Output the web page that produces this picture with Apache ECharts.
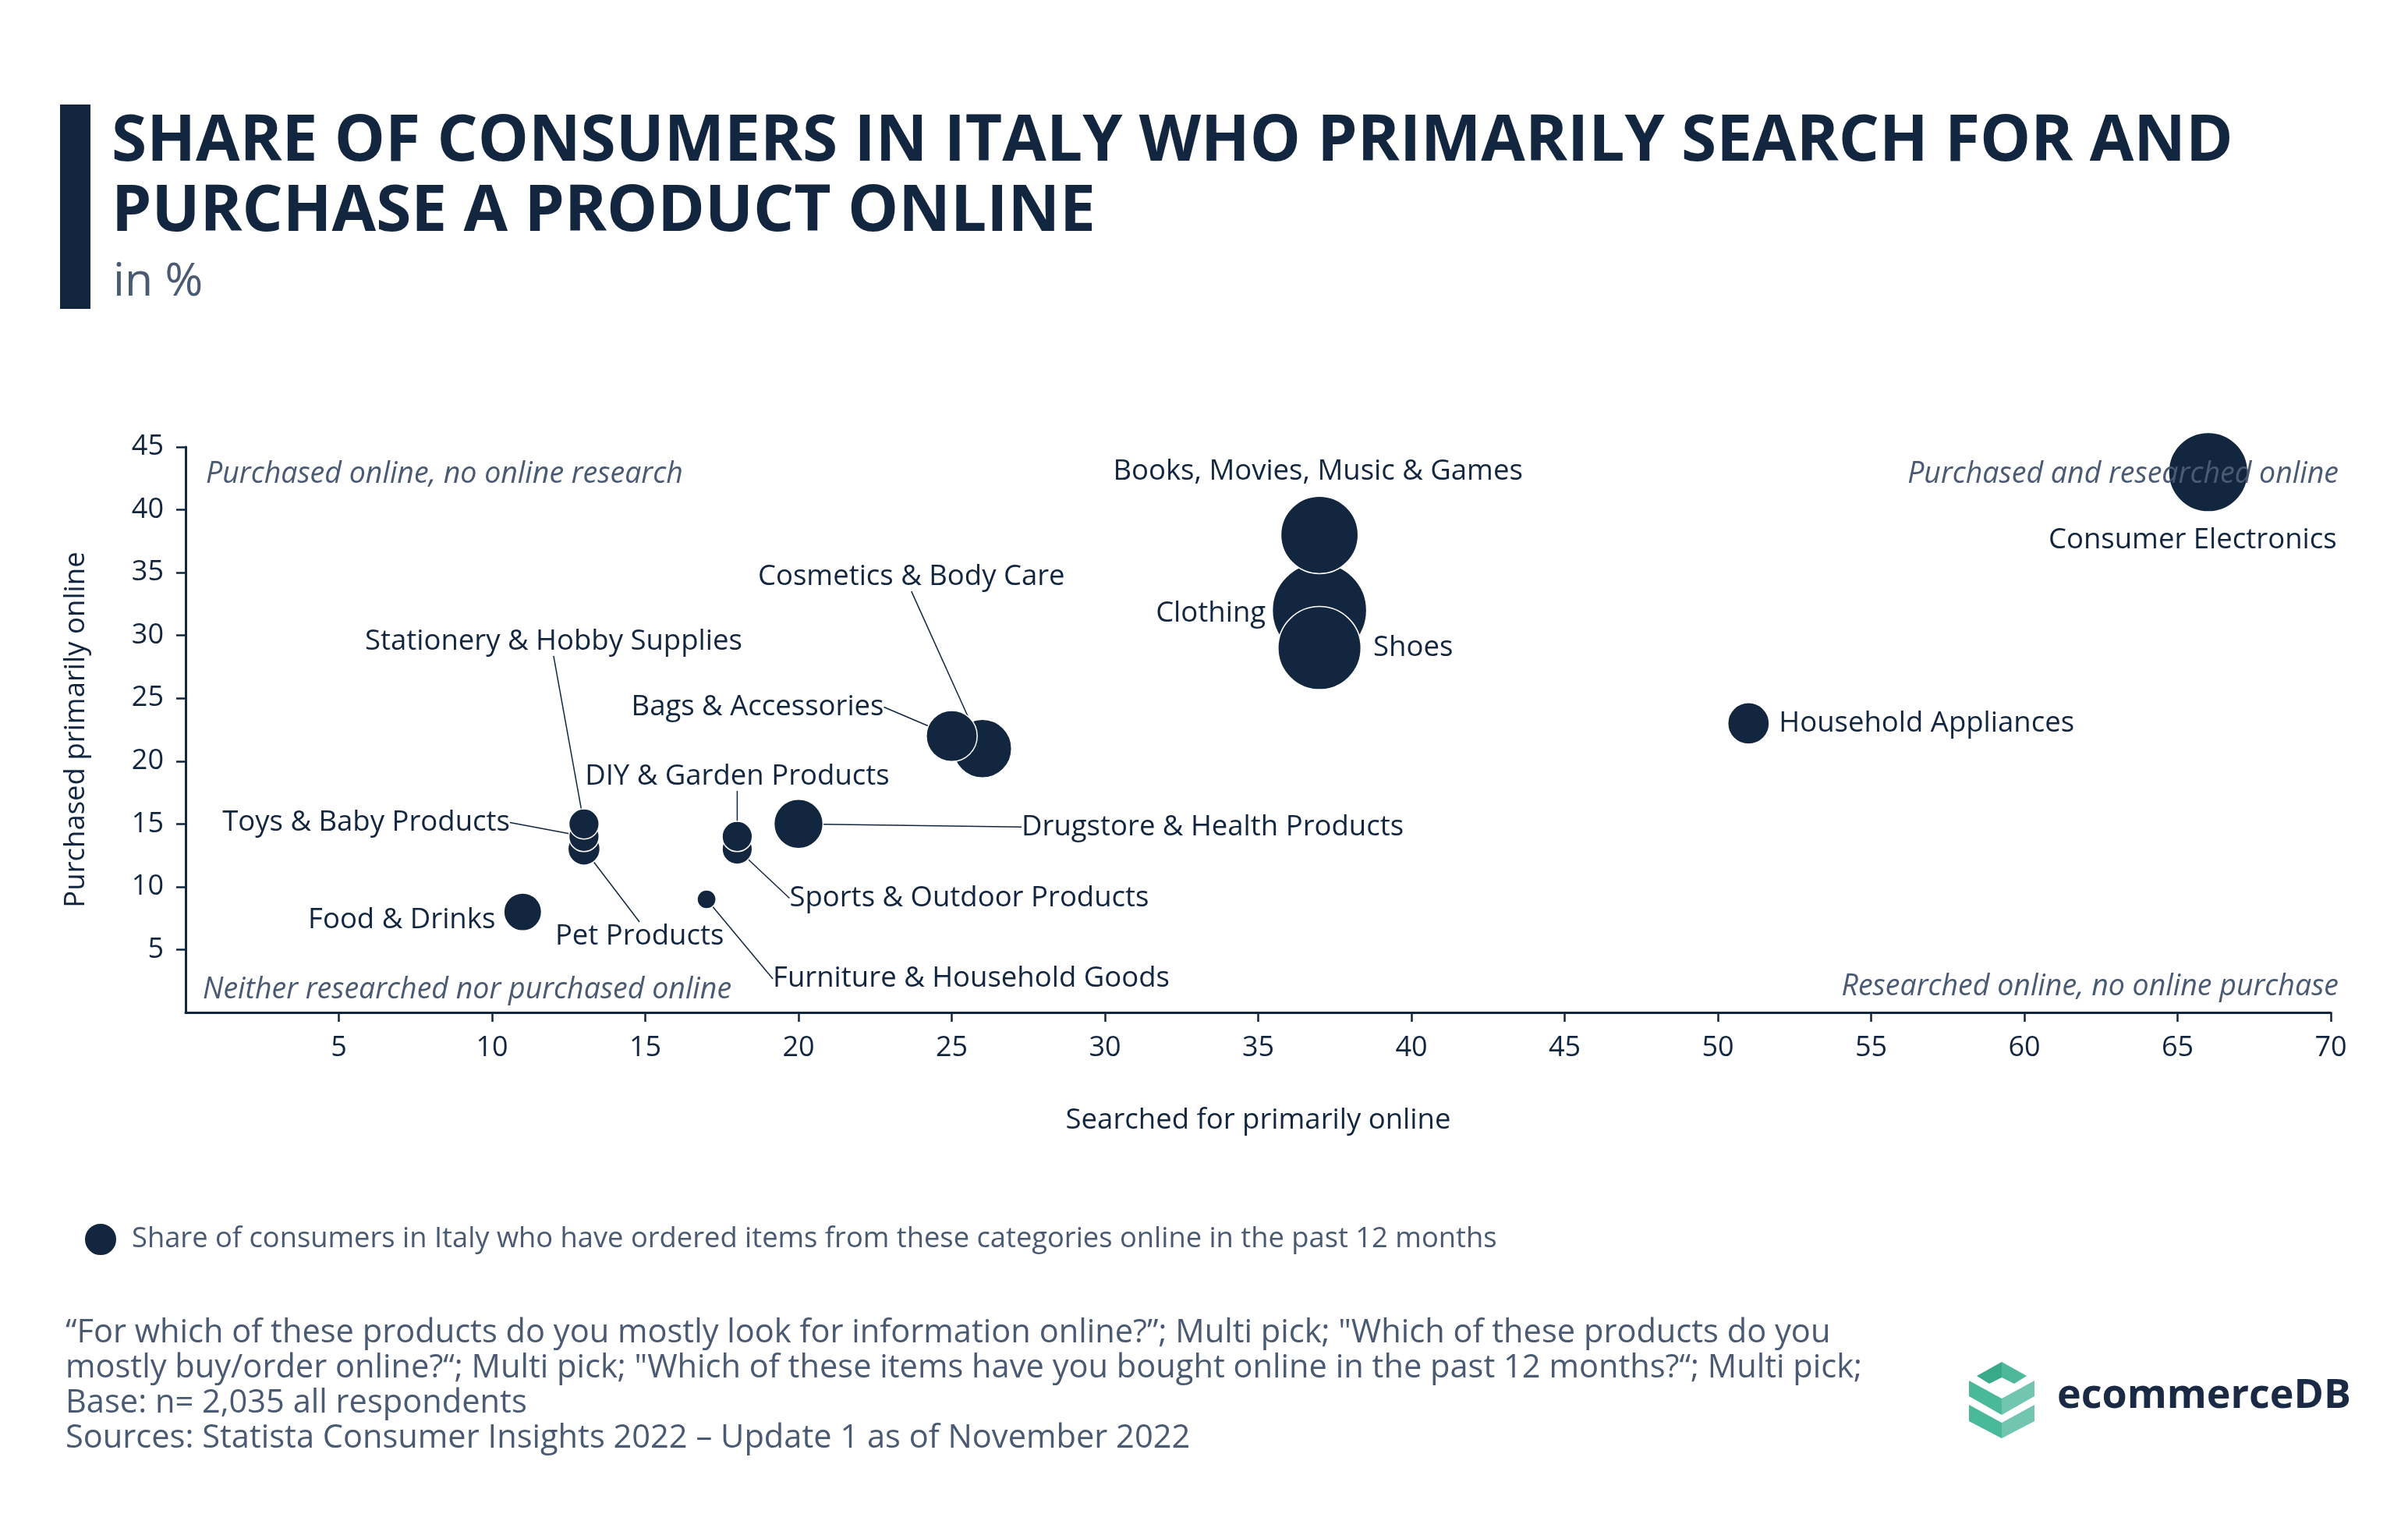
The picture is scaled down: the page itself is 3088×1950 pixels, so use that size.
<!DOCTYPE html>
<html>
<head>
<meta charset="utf-8">
<script src="https://cdn.jsdelivr.net/npm/echarts@6/dist/echarts.min.js"></script>
<style>
  html, body { margin: 0; padding: 0; background: #fff; }
  #main { width: 3088px; height: 1950px; }
</style>
</head>
<body>
<div id="main"></div>
<script>
// categories, drawn in this order (later ones sit on top)
var categories = [
  'Food & Drinks', 'Pet Products', 'Toys & Baby Products', 'Stationery & Hobby Supplies',
  'Furniture & Household Goods', 'Sports & Outdoor Products', 'DIY & Garden Products',
  'Drugstore & Health Products', 'Cosmetics & Body Care', 'Bags & Accessories',
  'Clothing', 'Shoes', 'Books, Movies, Music & Games', 'Household Appliances', 'Consumer Electronics'
];
// searched for primarily online (%)
var searched = [11, 13, 13, 13, 17, 18, 18, 20, 26, 25, 37, 37, 37, 51, 66];
// purchased primarily online (%)
var purchased = [8, 13, 14, 15, 9, 13, 14, 15, 21, 22, 32, 29, 38, 23, 43];
// ordered in the past 12 months (%) -> bubble size
var ordered = [20, 17, 16, 16, 10, 16, 16, 26, 31, 27, 50, 44, 41, 22, 42];

var xTicks = [0, 70, 5];
var yTicks = [0, 45, 5];

// label placement: [dx, dy, align, leader line]
var labelPlace = [
  [-35, 10, 'right', false],
  [-37, 112, 'left', true],
  [-95, -18, 'right', true],
  [-39, -234, 'center', true],
  [85, 102, 'left', true],
  [67, 63, 'left', true],
  [0, -77, 'center', true],
  [286, 4, 'left', true],
  [-91, -220, 'center', true],
  [-87, -37, 'right', true],
  [-69, 4, 'right', false],
  [69, 0, 'left', false],
  [-2, -81, 'center', false],
  [39, 0, 'left', false],
  [-20, 87, 'center', false]
];

var navy = '#13263f';
var grey = '#4a5a72';
var font = '"Open Sans", "Noto Sans", sans-serif';
var legendName = 'Share of consumers in Italy who have ordered items from these categories online in the past 12 months';

var seriesData = categories.map(function (name, i) {
  return {
    name: name,
    value: [searched[i], purchased[i], ordered[i]],
    labelLine: { show: labelPlace[i][3] }
  };
});

var chart = echarts.init(document.getElementById('main'));

var option = {
  backgroundColor: '#fff',
  textStyle: { fontFamily: font },
  title: [
    {
      text: 'SHARE OF CONSUMERS IN ITALY WHO PRIMARILY SEARCH FOR AND\nPURCHASE A PRODUCT ONLINE',
      left: 138,
      top: 133,
      textStyle: { fontSize: 82, fontWeight: 'bold', color: navy, lineHeight: 90, fontFamily: font }
    },
    {
      text: 'in %',
      left: 140,
      top: 328,
      textStyle: { fontSize: 59, fontWeight: 'normal', color: grey, fontFamily: font }
    }
  ],
  legend: {
    left: 102,
    top: 1562,
    icon: 'circle',
    itemWidth: 42,
    itemHeight: 42,
    textStyle: { fontSize: 36.3, color: grey, fontFamily: font, padding: [0, 0, 0, 14] },
    data: [legendName]
  },
  grid: { left: 238, right: 99, top: 573, bottom: 652 },
  xAxis: {
    type: 'value',
    min: xTicks[0], max: xTicks[1], interval: xTicks[2],
    name: 'Searched for primarily online',
    nameLocation: 'middle',
    nameGap: 120,
    nameTextStyle: { fontSize: 36.5, color: navy },
    axisLine: { show: true, lineStyle: { color: navy, width: 3 } },
    axisTick: { show: true, length: 12, lineStyle: { color: navy, width: 2.5 } },
    axisLabel: { fontSize: 36, color: navy, margin: 28, showMinLabel: false },
    splitLine: { show: false }
  },
  yAxis: {
    type: 'value',
    min: yTicks[0], max: yTicks[1], interval: yTicks[2],
    name: 'Purchased primarily online',
    nameLocation: 'middle',
    nameGap: 122,
    nameTextStyle: { fontSize: 36.5, color: navy },
    axisLine: { show: true, lineStyle: { color: navy, width: 3 } },
    axisTick: { show: true, length: 12, lineStyle: { color: navy, width: 2.5 } },
    axisLabel: { fontSize: 36, color: navy, margin: 28, showMinLabel: false },
    splitLine: { show: false }
  },
  series: [
    {
      name: legendName,
      type: 'scatter',
      data: seriesData,
      symbolSize: function (val) { return val[2] * 2.42; },
      itemStyle: { color: navy, borderColor: '#fff', borderWidth: 1.5, opacity: 1 },
      label: {
        show: true,
        position: 'inside',
        formatter: '{b}',
        fontSize: 36.5,
        color: navy,
        textBorderWidth: 0,
        fontFamily: font
      },
      labelLine: { show: false, lineStyle: { color: navy, width: 1.5 } },
      labelLayout: function (p) {
        var lp = labelPlace[p.dataIndex];
        return { dx: lp[0], dy: lp[1], align: lp[2], verticalAlign: 'middle' };
      },
      emphasis: { disabled: true },
      z: 3
    }
  ],
  graphic: [
    { type: 'rect', left: 77, top: 134, shape: { width: 39, height: 262 }, style: { fill: navy } },
    { type: 'text', left: 264, top: 589, style: { text: 'Purchased online, no online research', font: 'italic 37.5px ' + font, fill: grey }, z: 10 },
    { type: 'text', right: 89, top: 589, style: { text: 'Purchased and researched online', font: 'italic 37.5px ' + font, fill: grey }, z: 10 },
    { type: 'text', left: 260, top: 1250, style: { text: 'Neither researched nor purchased online', font: 'italic 37.5px ' + font, fill: grey }, z: 10 },
    { type: 'text', right: 89, top: 1246, style: { text: 'Researched online, no online purchase', font: 'italic 37.5px ' + font, fill: grey }, z: 10 },
    {
      type: 'text', left: 84, top: 1687,
      style: {
        text: '\u201CFor which of these products do you mostly look for information online?\u201D; Multi pick; "Which of these products do you\n' +
          'mostly buy/order online?\u201C; Multi pick; "Which of these items have you bought online in the past 12 months?\u201C; Multi pick;\n' +
          'Base: n= 2,035 all respondents\n' +
          'Sources: Statista Consumer Insights 2022 \u2013 Update 1 as of November 2022',
        font: '41.6px ' + font, fill: grey, lineHeight: 45
      }
    },
    // ecommerceDB logo
    { type: 'polygon', shape: { points: [[2567, 1746], [2535, 1764], [2551, 1774], [2567, 1766]] }, style: { fill: '#3aa98a' } },
    { type: 'polygon', shape: { points: [[2567, 1746], [2599, 1764], [2583, 1774], [2567, 1766]] }, style: { fill: '#4db99a' } },
    { type: 'polygon', shape: { points: [[2525, 1770], [2567, 1793], [2567, 1814], [2525, 1790]] }, style: { fill: '#4ab99a' } },
    { type: 'polygon', shape: { points: [[2609, 1770], [2567, 1793], [2567, 1814], [2609, 1790]] }, style: { fill: '#72c5b0' } },
    { type: 'polygon', shape: { points: [[2525, 1801], [2567, 1824], [2567, 1844], [2525, 1822]] }, style: { fill: '#4ab99a' } },
    { type: 'polygon', shape: { points: [[2609, 1801], [2567, 1824], [2567, 1844], [2609, 1822]] }, style: { fill: '#72c5b0' } },
    { type: 'text', left: 2638, top: 1764, style: { text: 'ecommerceDB', font: 'bold 52px ' + font, fill: '#1a2a44' } }
  ]
};

chart.setOption(option);
</script>
</body>
</html>
